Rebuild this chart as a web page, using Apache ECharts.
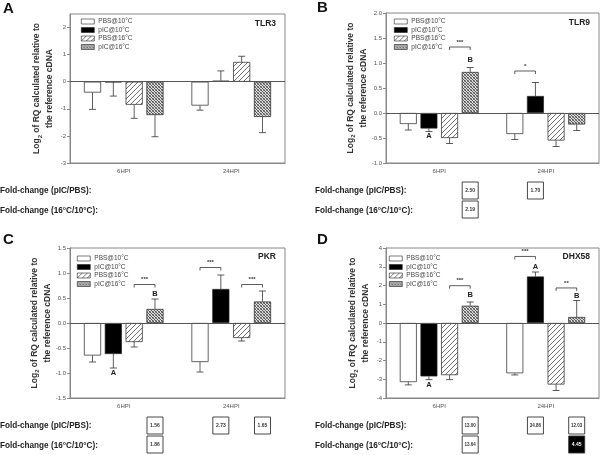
<!DOCTYPE html>
<html>
<head>
<meta charset="utf-8">
<script src="https://cdn.jsdelivr.net/npm/echarts@6/dist/echarts.min.js"></script>
<style>
  html, body { margin: 0; padding: 0; background: #fff; }
  #chart { width: 600px; height: 455px; }
</style>
</head>
<body>
<div id="chart"></div>
<script>
// categories and groups
const categories = ['6HPI', '24HPI'];
const groups = ['PBS@10°C', 'pIC@10°C', 'PBS@16°C', 'pIC@16°C'];

// mean log2 RQ, one row per group: [6HPI, 24HPI]
const tlr3Mean = [[-0.40, -0.88], [-0.02, 0.04], [-0.85, 0.73], [-1.23, -1.30]];
const tlr3Err = [[0.62, 0.17], [0.51, 0.36], [0.50, 0.21], [0.80, 0.58]];

const tlr9Mean = [[-0.22, -0.42], [-0.31, 0.34], [-0.50, -0.55], [0.82, -0.23]];
const tlr9Err = [[0.12, 0.11], [0.06, 0.27], [0.11, 0.12], [0.09, 0.12]];

const pkrMean = [[-0.65, -0.78], [-0.62, 0.68], [-0.38, -0.30], [0.28, 0.43]];
const pkrErr = [[0.13, 0.20], [0.28, 0.28], [0.10, 0.06], [0.20, 0.21]];

const dhxMean = [[-3.15, -2.68], [-2.85, 2.48], [-2.78, -3.28], [0.92, 0.32]];
const dhxErr = [[0.15, 0.09], [0.17, 0.24], [0.24, 0.32], [0.20, 0.88]];

// significance brackets: [category, fromGroup, toGroup, y, stars]
const tlr3Brackets = [];
const tlr9Brackets = [[0, 2, 3, 1.32, '***'], [1, 0, 1, 0.84, '*']];
const pkrBrackets = [[0, 2, 3, 0.77, '***'], [1, 0, 1, 1.11, '***'], [1, 2, 3, 0.77, '***']];
const dhxBrackets = [[0, 2, 3, 1.99, '***'], [1, 0, 1, 3.55, '***'], [1, 2, 3, 1.87, '**']];

// letters: [category, group, y, letter]
const tlr3Letters = [];
const tlr9Letters = [[0, 1, -0.45, 'A'], [0, 3, 1.07, 'B']];
const pkrLetters = [[0, 1, -0.99, 'A'], [0, 3, 0.59, 'B']];
const dhxLetters = [[0, 1, -3.28, 'A'], [0, 3, 1.50, 'B'], [1, 1, 2.97, 'A'], [1, 3, 1.47, 'B']];

// fold-change boxes: [category, group, row, value, dark]
const tlr3Folds = [];
const tlr9Folds = [[0, 3, 0, '2.50', 0], [1, 1, 0, '1.70', 0], [0, 3, 1, '2.19', 0]];
const pkrFolds = [[0, 3, 0, '1.56', 0], [1, 1, 0, '2.73', 0], [1, 3, 0, '1.65', 0], [0, 3, 1, '1.86', 0]];
const dhxFolds = [[0, 3, 0, '13.00', 0], [1, 1, 0, '34.86', 0], [1, 3, 0, '12.03', 0], [0, 3, 1, '13.64', 0], [1, 3, 1, '4.45', 1]];

const FONT = 'Liberation Sans, Arial, sans-serif';
const CAT_GAP = 0.26;
const BAR_GAP = 0.22;

const panels = [
  { letter: 'A', gene: 'TLR3', mean: tlr3Mean, err: tlr3Err, brackets: tlr3Brackets, letters: tlr3Letters, folds: tlr3Folds,
    grid: { left: 70, top: 14, width: 215, height: 149 }, min: -3, max: 2.5, interval: 1, dec: 0, legend: [81, 18] },
  { letter: 'B', gene: 'TLR9', mean: tlr9Mean, err: tlr9Err, brackets: tlr9Brackets, letters: tlr9Letters, folds: tlr9Folds,
    grid: { left: 386, top: 13, width: 213, height: 150 }, min: -1, max: 2, interval: 0.5, dec: 1, legend: [394, 18] },
  { letter: 'C', gene: 'PKR', mean: pkrMean, err: pkrErr, brackets: pkrBrackets, letters: pkrLetters, folds: pkrFolds,
    grid: { left: 70, top: 248, width: 215, height: 150 }, min: -1.5, max: 1.5, interval: 0.5, dec: 1, legend: [77, 255] },
  { letter: 'D', gene: 'DHX58', mean: dhxMean, err: dhxErr, brackets: dhxBrackets, letters: dhxLetters, folds: dhxFolds,
    grid: { left: 386, top: 248, width: 213, height: 150 }, min: -4, max: 4, interval: 1, dec: 0, legend: [389, 255] }
];

function hatchPattern() {
  const n = 5;
  const c = document.createElement('canvas');
  c.width = n; c.height = n;
  const g = c.getContext('2d');
  g.fillStyle = '#fff';
  g.fillRect(0, 0, n, n);
  g.strokeStyle = '#333';
  g.lineWidth = 0.7;
  g.beginPath();
  g.moveTo(-1, n + 1); g.lineTo(n + 1, -1);
  g.moveTo(-1, 1); g.lineTo(1, -1);
  g.moveTo(n - 1, n + 1); g.lineTo(n + 1, n - 1);
  g.stroke();
  return { image: c, repeat: 'repeat' };
}

function crossPattern() {
  const c = document.createElement('canvas');
  c.width = 3; c.height = 3;
  const g = c.getContext('2d');
  g.fillStyle = '#dcdcdc';
  g.fillRect(0, 0, 3, 3);
  g.fillStyle = '#5a5a5a';
  g.fillRect(0, 0, 1, 1);
  g.fillRect(1, 1, 1, 1);
  g.fillRect(2, 2, 1, 1);
  g.fillStyle = '#8c8c8c';
  g.fillRect(2, 0, 1, 1);
  g.fillRect(0, 2, 1, 1);
  return { image: c, repeat: 'repeat' };
}

const fills = ['#fff', '#000', hatchPattern(), crossPattern()];

// x position of a bar centre, same layout rule as echarts bar grouping
function barX(api, cat, k) {
  const cx = api.coord([cat, 0])[0];
  const bw = api.size([1, 0])[0];
  const band = bw * (1 - CAT_GAP);
  const w = band / (4 + 3 * BAR_GAP);
  return cx - band / 2 + k * w * (1 + BAR_GAP) + w / 2;
}

const chart = echarts.init(document.getElementById('chart'), null, { renderer: 'canvas' });

const grids = [], xAxes = [], yAxes = [], series = [], legends = [], graphics = [];

panels.forEach((p, i) => {
  grids.push(Object.assign({ show: true, borderColor: '#888', borderWidth: 1, backgroundColor: 'transparent' }, p.grid));

  xAxes.push({
    gridIndex: i, type: 'category', data: categories,
    axisLine: { onZero: false, lineStyle: { color: '#888' } },
    axisTick: { alignWithLabel: true, length: 3, lineStyle: { color: '#888' } },
    axisLabel: { fontSize: 6, color: '#555', margin: 5, fontFamily: FONT }
  });

  yAxes.push({
    gridIndex: i, type: 'value', min: p.min, max: p.max, interval: p.interval,
    axisLine: { show: true, lineStyle: { color: '#888' } },
    axisTick: { show: true, length: 3, lineStyle: { color: '#888' } },
    splitLine: { show: false },
    axisLabel: {
      fontSize: 6, color: '#555', margin: 4, fontFamily: FONT,
      showMaxLabel: p.max % p.interval === 0,
      formatter: v => v.toFixed(p.dec)
    },
    name: '{b|Log}{s|2}{b| of RQ calculated relative to}\n{b|the reference cDNA}',
    nameLocation: 'middle', nameGap: 14,
    nameTextStyle: {
      fontFamily: FONT,
      rich: {
        b: { fontSize: 8.5, fontWeight: 'bold', color: '#333', lineHeight: 13, fontFamily: FONT },
        s: { fontSize: 6, fontWeight: 'bold', color: '#333', lineHeight: 13, verticalAlign: 'bottom', padding: [4, 0, 0, 0], fontFamily: FONT }
      }
    }
  });

  groups.forEach((name, k) => {
    const s = {
      type: 'bar', name, xAxisIndex: i, yAxisIndex: i,
      data: p.mean[k],
      barGap: (BAR_GAP * 100) + '%', barCategoryGap: (CAT_GAP * 100) + '%',
      itemStyle: { color: fills[k], borderColor: '#222', borderWidth: 0.7 },
      silent: true, animation: false
    };
    if (k === 0) {
      s.markLine = {
        silent: true, symbol: 'none', animation: false,
        label: { show: false },
        lineStyle: { color: '#555', width: 1, type: 'solid' },
        data: [{ yAxis: 0 }]
      };
    }
    series.push(s);
  });

  // error bars, one side only, away from zero
  const errData = [];
  p.mean.forEach((row, k) => row.forEach((m, c) => errData.push([c, m, k, p.err[k][c]])));
  series.push({
    type: 'custom', xAxisIndex: i, yAxisIndex: i, silent: true, animation: false, clip: false, z: 3,
    data: errData,
    renderItem(params, api) {
      const [c, m, k, e] = errData[params.dataIndex];
      const x = barX(api, c, k);
      const y0 = api.coord([c, m])[1];
      const y1 = api.coord([c, m >= 0 ? m + e : m - e])[1];
      const st = { stroke: '#333', lineWidth: 0.8 };
      return {
        type: 'group', children: [
          { type: 'line', shape: { x1: x, y1: y0, x2: x, y2: y1 }, style: st },
          { type: 'line', shape: { x1: x - 3.5, y1: y1, x2: x + 3.5, y2: y1 }, style: st }
        ]
      };
    }
  });

  if (p.brackets.length) {
    series.push({
      type: 'custom', xAxisIndex: i, yAxisIndex: i, silent: true, animation: false, clip: false, z: 3,
      data: p.brackets.map(b => [b[0], b[3]]),
      renderItem(params, api) {
        const [c, k1, k2, yv, txt] = p.brackets[params.dataIndex];
        const x1 = barX(api, c, k1), x2 = barX(api, c, k2);
        const y = api.coord([c, yv])[1];
        return {
          type: 'group', children: [
            { type: 'polyline', shape: { points: [[x1, y + 3], [x1, y], [x2, y], [x2, y + 3]] }, style: { stroke: '#333', lineWidth: 0.8, fill: null } },
            { type: 'text', x: (x1 + x2) / 2, y: y - 2, style: { text: txt, fontSize: 6, fontWeight: 'bold', fill: '#333', align: 'center', verticalAlign: 'bottom', fontFamily: FONT } }
          ]
        };
      }
    });
  }

  if (p.letters.length) {
    series.push({
      type: 'custom', xAxisIndex: i, yAxisIndex: i, silent: true, animation: false, clip: false, z: 3,
      data: p.letters.map(l => [l[0], l[2]]),
      renderItem(params, api) {
        const [c, k, yv, txt] = p.letters[params.dataIndex];
        return {
          type: 'text', x: barX(api, c, k), y: api.coord([c, yv])[1],
          style: { text: txt, fontSize: 7.5, fontWeight: 'bold', fill: '#222', align: 'center', verticalAlign: 'middle', fontFamily: FONT }
        };
      }
    });
  }

  if (p.folds.length) {
    series.push({
      type: 'custom', xAxisIndex: i, yAxisIndex: i, silent: true, animation: false, clip: false, z: 3,
      data: p.folds.map(f => [f[0], p.min]),
      renderItem(params, api) {
        const [c, k, row, txt, dark] = p.folds[params.dataIndex];
        const x = barX(api, c, k);
        const bottom = params.coordSys.y + params.coordSys.height;
        const top = bottom + 19 + row * 19;
        return {
          type: 'group', children: [
            { type: 'rect', shape: { x: x - 8, y: top, width: 16, height: 17 }, style: { fill: dark ? '#000' : '#fff', stroke: '#333', lineWidth: 0.9 } },
            { type: 'text', x: x, y: top + 8.5, style: { text: txt, fontSize: txt.length > 4 ? 4.5 : 5, fontWeight: 'bold', fill: dark ? '#fff' : '#333', align: 'center', verticalAlign: 'middle', fontFamily: FONT } }
          ]
        };
      }
    });
  }

  legends.push({
    data: groups, orient: 'vertical', left: p.legend[0], top: p.legend[1],
    itemWidth: 13, itemHeight: 5, itemGap: 1.5, padding: 0, selectedMode: false,
    icon: 'rect',
    itemStyle: { borderWidth: 0.6, borderColor: '#222' },
    textStyle: { fontSize: 6.5, color: '#444', fontFamily: FONT, padding: [0, 0, 0, -1] }
  });

  const g = p.grid;
  const letterX = i % 2 === 0 ? 3 : 317;
  graphics.push({ type: 'text', x: letterX, y: g.top - (i < 2 ? 5 : 8), style: { text: p.letter, fontSize: 15, fontWeight: 'bold', fill: '#111', verticalAlign: 'middle', fontFamily: FONT } });
  graphics.push({ type: 'text', x: g.left + g.width - 9, y: g.top + (i < 2 ? 10 : 9), style: { text: p.gene, fontSize: 8.5, fontWeight: 'bold', fill: '#222', align: 'right', verticalAlign: 'middle', fontFamily: FONT } });
  const labelX = i % 2 === 0 ? 0 : 315;
  const bottom = g.top + g.height;
  graphics.push({ type: 'text', x: labelX, y: bottom + 28, style: { text: 'Fold-change (pIC/PBS):', fontSize: 8.2, fontWeight: 'bold', fill: '#222', verticalAlign: 'middle', fontFamily: FONT } });
  graphics.push({ type: 'text', x: labelX, y: bottom + 48, style: { text: 'Fold-change (16°C/10°C):', fontSize: 8.2, fontWeight: 'bold', fill: '#222', verticalAlign: 'middle', fontFamily: FONT } });
});

chart.setOption({
  animation: false,
  textStyle: { fontFamily: FONT },
  grid: grids,
  xAxis: xAxes,
  yAxis: yAxes,
  legend: legends,
  series,
  graphic: graphics
});
</script>
</body>
</html>
